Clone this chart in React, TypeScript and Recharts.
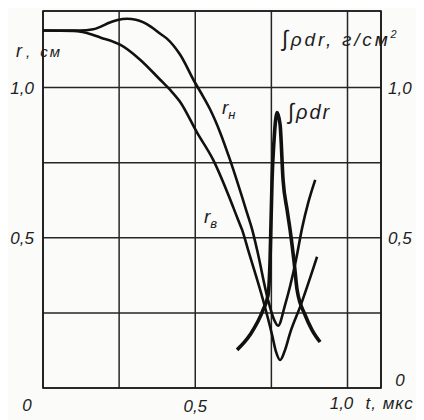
import React from 'react';
import { LineChart, Line, XAxis, YAxis, CartesianGrid, ReferenceArea } from 'recharts';

// r_н (outer radius), cm
const tOuter = [0, 0.12, 0.165, 0.19, 0.215, 0.245, 0.276, 0.305, 0.33, 0.355, 0.384, 0.407, 0.45, 0.499, 0.526, 0.549, 0.582, 0.614, 0.67, 0.687, 0.703, 0.739, 0.759, 0.772, 0.795, 0.811, 0.831, 0.851, 0.871, 0.894];
const rOuter = [1.19, 1.19, 1.194, 1.203, 1.215, 1.225, 1.229, 1.226, 1.217, 1.202, 1.18, 1.163, 1.11, 1.017, 0.97, 0.927, 0.85, 0.76, 0.583, 0.527, 0.46, 0.293, 0.227, 0.207, 0.277, 0.337, 0.427, 0.533, 0.617, 0.693];

// r_в (inner radius), cm
const tInner = [0, 0.1, 0.13, 0.16, 0.19, 0.23, 0.253, 0.319, 0.384, 0.417, 0.45, 0.506, 0.5585, 0.6242, 0.6406, 0.6537, 0.6735, 0.7227, 0.7523, 0.7654, 0.7786, 0.795, 0.8114, 0.8443, 0.9];
const rInner = [1.19, 1.189, 1.185, 1.177, 1.166, 1.153, 1.143, 1.093, 1.027, 0.993, 0.953, 0.85, 0.76, 0.603, 0.56, 0.527, 0.46, 0.293, 0.177, 0.12, 0.093, 0.127, 0.183, 0.27, 0.437];

// ∫ρdr, g/cm²
const tRho = [0.6373, 0.68, 0.7227, 0.7392, 0.7457, 0.749, 0.7523, 0.7589, 0.7687, 0.7786, 0.7884, 0.8016, 0.8114, 0.8246, 0.8344, 0.8607, 0.8837, 0.91];
const vRho = [0.127, 0.177, 0.26, 0.31, 0.427, 0.56, 0.693, 0.827, 0.917, 0.877, 0.693, 0.593, 0.527, 0.42, 0.327, 0.243, 0.193, 0.153];

const xTicks = [0, 0.25, 0.5, 0.75, 1.0];
const yTicks = [0, 0.25, 0.5, 0.75, 1.0];
const xLabels: Record<string, string> = { '0': '0', '0.5': '0,5', '1': '1,0' };
const leftLabels: Record<string, string> = { '0.5': '0,5', '1': '1,0' };
const rightLabels: Record<string, string> = { '0': '0', '0.5': '0,5', '1': '1,0' };
const X_MAX = 1.11;
const Y_MAX = 1.255;

const outerData = tOuter.map((t, i) => ({ t, v: rOuter[i] }));
const innerData = tInner.map((t, i) => ({ t, v: rInner[i] }));
const rhoData = tRho.map((t, i) => ({ t, v: vRho[i] }));

const FONT = "'Liberation Sans', 'DejaVu Sans', sans-serif";
const INK = '#1e1e1e';

const XTick = (props: any) => {
  const { x, y, payload } = props;
  const v = payload.value;
  const label = xLabels[String(v)];
  if (!label) return null;
  if (v === 0) {
    return <text x={x - 16} y={y + 23} textAnchor="middle" fontFamily={FONT} fontStyle="italic" fontSize={17} fill={INK}>{label}</text>;
  }
  if (v === 1) {
    return (
      <g>
        <text x={x - 6} y={y + 21} textAnchor="middle" fontFamily={FONT} fontStyle="italic" fontSize={17} fill={INK}>{label}</text>
        <text x={x + 18} y={y + 21} textAnchor="start" fontFamily={FONT} fontStyle="italic" fontSize={17} fill={INK} letterSpacing={1}>t, мкс</text>
      </g>
    );
  }
  return <text x={x} y={y + 24} textAnchor="middle" fontFamily={FONT} fontStyle="italic" fontSize={17} fill={INK}>{label}</text>;
};

const LeftTick = (props: any) => {
  const { x, y, payload } = props;
  const label = leftLabels[String(payload.value)];
  if (!label) return null;
  return <text x={x - 9} y={y + 6} textAnchor="end" fontFamily={FONT} fontStyle="italic" fontSize={17} fill={INK}>{label}</text>;
};

const RightTick = (props: any) => {
  const { x, y, payload } = props;
  const v = payload.value;
  const label = rightLabels[String(v)];
  if (!label) return null;
  if (v === 0) {
    return <text x={x + 19} y={y - 2} textAnchor="middle" fontFamily={FONT} fontStyle="italic" fontSize={17} fill={INK}>{label}</text>;
  }
  return <text x={x + 7} y={y + 6} textAnchor="start" fontFamily={FONT} fontStyle="italic" fontSize={17} fill={INK}>{label}</text>;
};

export default function App() {
  return (
    <div style={{ width: 416, height: 412, background: '#fbfbfa' }}>
      <LineChart width={416} height={412} margin={{ top: 3, right: 0, bottom: 0, left: 0 }}>
        <CartesianGrid stroke="#262626" strokeWidth={1.5} />
        <XAxis type="number" dataKey="t" domain={[0, X_MAX]} ticks={xTicks} interval={0} height={32}
          axisLine={false} tickLine={false} tickSize={0} tickMargin={0} tick={<XTick />} allowDataOverflow />
        <YAxis type="number" domain={[0, Y_MAX]} ticks={yTicks} interval={0} width={35}
          axisLine={false} tickLine={false} tickSize={0} tickMargin={0} tick={<LeftTick />} allowDataOverflow />
        <YAxis yAxisId="right" orientation="right" type="number" domain={[0, Y_MAX]} ticks={yTicks} interval={0} width={43}
          axisLine={false} tickLine={false} tickSize={0} tickMargin={0} tick={<RightTick />} allowDataOverflow />
        <ReferenceArea x1={0} x2={X_MAX} y1={0} y2={Y_MAX} fill="none" stroke="#1a1a1a" strokeWidth={1.7} ifOverflow="visible" />
        <Line data={outerData} dataKey="v" type="monotone" stroke="#111" strokeWidth={2.6} dot={false} activeDot={false} isAnimationActive={false} />
        <Line data={innerData} dataKey="v" type="monotone" stroke="#111" strokeWidth={2.6} dot={false} activeDot={false} isAnimationActive={false} />
        <Line data={rhoData} dataKey="v" type="monotone" stroke="#111" strokeWidth={3.6} dot={false} activeDot={false} isAnimationActive={false} />
        <text x={8} y={49} fontFamily={FONT} fontStyle="italic" fill={INK}>
          <tspan fontSize={18}>r</tspan><tspan fontSize={15} dx={4}>,</tspan><tspan fontSize={15} dx={10} letterSpacing={2}>см</tspan>
        </text>
        <text x={274} y={38} fontFamily={FONT} fontStyle="italic" fill={INK} letterSpacing={2.8}>
          <tspan fontSize={22}>∫</tspan><tspan fontSize={19}>ρdr, г/см</tspan><tspan fontSize={11} dy={-8}>2</tspan>
        </text>
        <text x={214} y={106} fontFamily={FONT} fontStyle="italic" fill={INK}>
          <tspan fontSize={19}>r</tspan><tspan fontSize={13} dy={5}>н</tspan>
        </text>
        <text x={280} y={111} fontFamily={FONT} fontStyle="italic" fill={INK} letterSpacing={2}>
          <tspan fontSize={22}>∫</tspan><tspan fontSize={20}>ρdr</tspan>
        </text>
        <text x={196} y={215} fontFamily={FONT} fontStyle="italic" fill={INK}>
          <tspan fontSize={19}>r</tspan><tspan fontSize={13} dy={5}>в</tspan>
        </text>
      </LineChart>
    </div>
  );
}
